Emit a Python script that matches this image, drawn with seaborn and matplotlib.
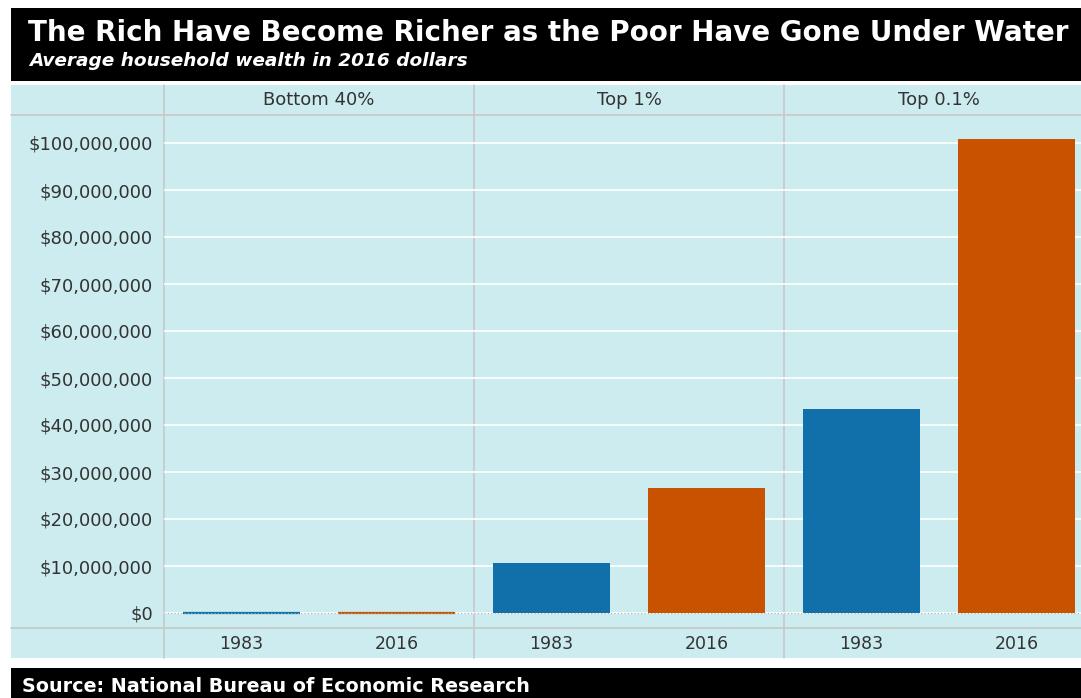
import matplotlib
matplotlib.use("Agg")
import matplotlib.pyplot as plt
from matplotlib.patches import Rectangle
from matplotlib.lines import Line2D
from matplotlib.ticker import FuncFormatter, MultipleLocator
import seaborn as sns
import pandas as pd

groups = ["Bottom 40%", "Top 1%", "Top 0.1%"]
years = ["1983", "2016"]
wealth_1983 = [6900, 10600000, 43400000]
wealth_2016 = [-8900, 26600000, 100900000]

title = "The Rich Have Become Richer as the Poor Have Gone Under Water"
subtitle = "Average household wealth in 2016 dollars"
source = "Source: National Bureau of Economic Research"

rows = []
for g, a, b in zip(groups, wealth_1983, wealth_2016):
    rows.append({"group": g, "year": years[0], "value": a})
    rows.append({"group": g, "year": years[1], "value": b})
df = pd.DataFrame(rows)

sns.set_theme(style="white")
plt.rcParams["font.family"] = ["DejaVu Sans"]

W, H = 1081, 698
fig = plt.figure(figsize=(W / 100, H / 100), dpi=100)
fig.patch.set_facecolor("white")

BG = "#CCECEF"
GRID_GRAY = "#C8C8C8"
TXT = "#333333"
palette = {"1983": "#1170AA", "2016": "#C85200"}

def fx(px):
    return px / W

def fy(py):
    return 1 - py / H

# header band
fig.patches.append(Rectangle((fx(11), fy(81)), fx(W - 11), fy(8) - fy(81),
                             transform=fig.transFigure, facecolor="black",
                             edgecolor="none", zorder=-2))
# panel background
fig.patches.append(Rectangle((fx(11), fy(658)), fx(W - 11), fy(85) - fy(658),
                             transform=fig.transFigure, facecolor=BG,
                             edgecolor="none", zorder=-2))
# footer band
fig.patches.append(Rectangle((fx(11), fy(698)), fx(W - 11), fy(668) - fy(698),
                             transform=fig.transFigure, facecolor="black",
                             edgecolor="none", zorder=-2))

fig.text(fx(28), fy(33), title, color="white", fontsize=20, fontweight="bold",
         va="center", ha="left")
fig.text(fx(29), fy(61), subtitle, color="white", fontsize=13.3, fontweight="bold",
         style="italic", va="center", ha="left")
fig.text(fx(22), fy(686), source, color="white", fontsize=13.8, fontweight="bold",
         va="center", ha="left")

# horizontal separators
for y in (115, 628):
    fig.lines.append(Line2D([fx(11), 1], [fy(y), fy(y)], transform=fig.transFigure,
                            color=GRID_GRAY, lw=1.2, zorder=-1))

left_px = [164, 474, 784]
facet_w = 310
ax_bottom, ax_top = 628, 115
y_zero_px, y_100_px = 613, 143
ppm = (y_zero_px - y_100_px) / 100e6
ymin = -(ax_bottom - y_zero_px) / ppm
ymax = (y_zero_px - ax_top) / ppm

for i, g in enumerate(groups):
    x0 = left_px[i]
    ax = fig.add_axes([fx(x0), fy(ax_bottom), fx(facet_w), fy(ax_top) - fy(ax_bottom)])
    ax.set_facecolor("none")
    sub = df[df["group"] == g]
    sns.barplot(data=sub, x="year", y="value", hue="year", palette=palette,
                width=0.75, legend=False, ax=ax, saturation=1,
                order=years, hue_order=years, linewidth=0)
    if i == 0:
        # near-zero bars are shown as thin lines of their own colour
        for p in ax.patches:
            p.set_edgecolor(p.get_facecolor())
            p.set_linewidth(1.6)
    ax.set_xlim(-0.5, 1.5)
    ax.set_ylim(ymin, ymax)
    ax.yaxis.set_major_locator(MultipleLocator(10e6))
    ax.grid(axis="y", color="white", lw=1.2, zorder=0)
    ax.set_axisbelow(True)
    ax.axhline(0, color="#AAAAAA", lw=0.8, ls=(0, (1, 2)), zorder=1)
    for s in ax.spines.values():
        s.set_visible(False)
    ax.set_xlabel("")
    ax.set_ylabel("")
    ax.tick_params(axis="x", length=0, pad=5, labelsize=12.5, labelcolor=TXT)
    if i == 0:
        ax.yaxis.set_major_formatter(FuncFormatter(lambda v, p: f"${v:,.0f}"))
        ax.tick_params(axis="y", length=5, color="white", width=1.2, pad=3,
                       labelsize=13, labelcolor=TXT)
    else:
        ax.tick_params(axis="y", length=0, labelleft=False)
    # facet header
    fig.text(fx(x0 + facet_w / 2), fy(100), g, color=TXT, fontsize=13,
             ha="center", va="center")
    # facet vertical separator
    fig.lines.append(Line2D([fx(x0), fx(x0)], [fy(658), fy(85)],
                            transform=fig.transFigure, color=GRID_GRAY, lw=1.2,
                            zorder=-1))

fig.savefig("out.png", dpi=100)
